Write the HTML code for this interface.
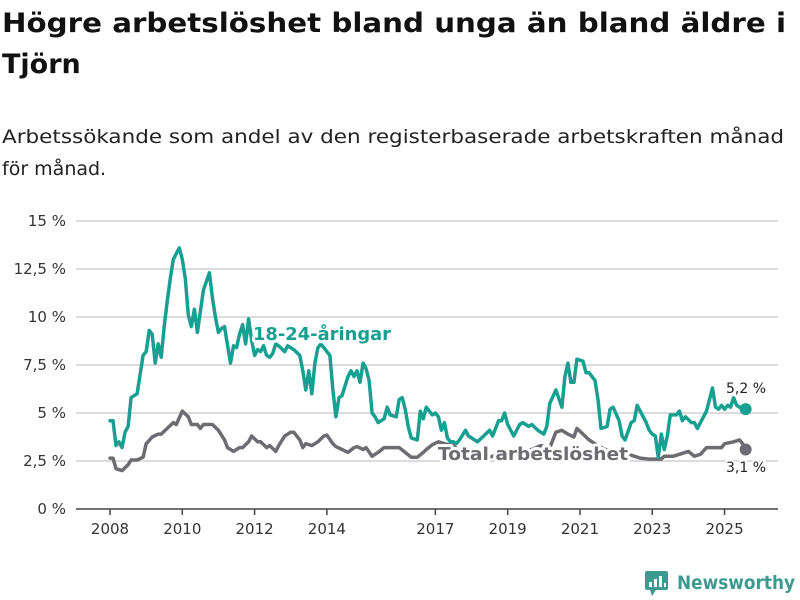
<!DOCTYPE html>
<html><head><meta charset="utf-8">
<style>
html,body{margin:0;padding:0;background:#fff;}
svg{display:block;}
text{font-family:"DejaVu Sans","Liberation Sans",sans-serif;}
</style></head>
<body>
<svg id="chart" width="800" height="600" viewBox="0 0 800 600">
  <text x="2" y="32" font-size="27" font-weight="bold" fill="#111" textLength="784" lengthAdjust="spacingAndGlyphs">Högre arbetslöshet bland unga än bland äldre i</text>
  <text x="2" y="73" font-size="27" font-weight="bold" fill="#111">Tjörn</text>
  <text x="2" y="143" font-size="19" fill="#222" textLength="782" lengthAdjust="spacingAndGlyphs">Arbetssökande som andel av den registerbaserade arbetskraften månad</text>
  <text x="2" y="175" font-size="19" fill="#222">för månad.</text>
  <g id="grid"></g>
  <g id="series"></g>
  <g id="labels"></g>
  <g>
    <rect x="645" y="571" width="23" height="19" rx="2" fill="#3d9a90"/>
    <polygon points="650,590 656,590 652,596" fill="#3d9a90"/>
    <rect x="649" y="582" width="3" height="5" fill="#fff"/>
    <rect x="654" y="579" width="3" height="8" fill="#fff"/>
    <rect x="659" y="576" width="3" height="11" fill="#fff"/>
    <rect x="664" y="583" width="2" height="4" fill="#fff"/>
    <text x="677" y="589" font-size="19" font-weight="bold" fill="#3d9a90" textLength="118" lengthAdjust="spacingAndGlyphs">Newsworthy</text>
  </g>
</svg>
<script>
const yTicks = [0, 2.5, 5, 7.5, 10, 12.5, 15];
const yTickLabels = ["0 %", "2,5 %", "5 %", "7,5 %", "10 %", "12,5 %", "15 %"];
const xTickYears = [2008, 2010, 2012, 2014, 2017, 2019, 2021, 2023, 2025];
const youthMonths = [0,1,2,3,4,5,6,7,8,9,10,11,12,13,14,15,16,17,18,19,20,21,23,24,25,26,27,28,29,30,31,33,34,35,36,37,38,40,41,42,43,44,45,46,47,48,49,50,51,52,53,54,55,56,58,59,61,63,64,65,66,67,68,69,70,71,73,74,75,76,77,79,80,81,82,83,84,85,86,87,88,89,91,92,93,95,96,97,98,99,100,102,103,104,105,107,108,109,110,111,112,113,114,115,116,118,119,121,122,124,126,127,129,130,131,132,134,136,137,139,140,142,144,145,146,148,150,151,152,153,154,155,157,158,159,161,162,163,165,166,167,169,170,171,173,174,175,176,178,179,180,181,182,183,184,185,186,188,189,190,191,193,194,195,197,198,200,201,202,203,204,205,206,207,208,210,211];
const youthValues = [4.6,4.6,3.3,3.5,3.2,4.0,4.3,5.8,5.9,6.0,7.0,8.0,8.2,9.3,9.1,7.6,8.6,7.9,9.5,10.8,12,13,13.6,13,12,10.1,9.5,10.4,9.2,10.3,11.4,12.3,11,10,9.2,9.4,9.5,7.6,8.5,8.4,9.1,9.6,8.6,9.9,8.8,8.0,8.3,8.2,8.5,8.0,7.9,8.1,8.6,8.5,8.2,8.5,8.3,8.0,7.2,6.2,7.2,6.0,7.6,8.4,8.6,8.4,8.0,6.2,4.8,5.8,5.9,6.9,7.2,6.9,7.2,6.6,7.6,7.3,6.7,5.0,4.8,4.5,4.7,5.3,4.9,4.8,5.7,5.8,5.2,4.3,3.7,3.6,5.1,4.7,5.3,4.9,5.0,4.8,4.1,4.5,3.7,3.5,3.5,3.4,3.6,4.1,3.8,3.6,3.5,3.8,4.1,3.8,4.6,4.6,5.0,4.4,3.8,4.4,4.5,4.3,4.4,4.1,3.9,4.3,5.5,6.2,5.3,6.9,7.6,6.6,6.6,7.8,7.7,7.1,7.1,6.7,5.7,4.2,4.3,5.2,5.3,4.6,3.8,3.6,4.5,4.6,5.4,5.1,4.5,4.1,3.9,3.8,2.7,3.9,3.1,3.8,4.9,4.9,5.1,4.6,4.8,4.5,4.5,4.2,4.8,5.1,6.3,5.3,5.2,5.4,5.2,5.4,5.3,5.8,5.4,5.2,5.2];
const totalMonths = [0,1,2,4,6,7,9,11,12,14,16,17,19,21,22,24,26,27,29,30,31,33,34,36,38,39,41,43,44,46,47,49,50,52,53,55,56,58,60,61,63,64,65,67,69,71,72,74,75,77,79,81,82,84,85,87,89,91,94,96,98,100,102,104,105,107,109,111,114,116,120,123,126,130,133,136,140,143,146,148,150,152,154,155,157,159,163,166,169,173,176,179,183,184,187,189,192,194,196,198,200,203,204,207,209,210,211];
const totalValues = [2.65,2.65,2.1,2.0,2.3,2.55,2.55,2.7,3.4,3.75,3.9,3.9,4.2,4.5,4.4,5.1,4.8,4.4,4.4,4.2,4.4,4.4,4.4,4.1,3.6,3.2,3.0,3.2,3.2,3.5,3.8,3.5,3.5,3.2,3.3,3.0,3.3,3.8,4.0,4.0,3.6,3.2,3.4,3.3,3.5,3.8,3.85,3.4,3.25,3.1,2.95,3.2,3.25,3.1,3.2,2.75,2.95,3.2,3.2,3.2,2.95,2.7,2.7,2.95,3.1,3.35,3.5,3.4,3.3,3.0,2.8,2.6,2.7,2.9,2.9,3.0,3.1,3.3,3.2,4.0,4.1,3.9,3.75,4.2,3.9,3.6,3.2,3.0,2.9,2.8,2.65,2.6,2.6,2.75,2.75,2.85,3.0,2.75,2.85,3.2,3.2,3.2,3.4,3.5,3.6,3.4,3.1];
const youthLast = "5,2 %";
const totalLast = "3,1 %";

const NS = "http://www.w3.org/2000/svg";
const x0 = 110, pxPerMonth = 3.0125;
const yBase = 509, pxPerUnit = 19.2;
function xScale(m){ return x0 + m * pxPerMonth; }
function yScale(v){ return yBase - v * pxPerUnit; }
function mk(tag, attrs, parent){ const e = document.createElementNS(NS, tag); for (const k in attrs) e.setAttribute(k, attrs[k]); parent.appendChild(e); return e; }

const grid = document.getElementById('grid');
yTicks.forEach((t, i) => {
  if (t > 0) {
    const l = mk('line', {x1:76, x2:778, y1:yScale(t), y2:yScale(t), stroke:'#dcdcdc', 'stroke-width':2}, grid);
    
    
  }
  const tx = mk('text', {x:66, y:yScale(t)+5, 'text-anchor':'end', 'font-size':15, fill:'#333'}, grid);
  tx.textContent = yTickLabels[i];
  
  
});
const axis = mk('line', {x1:76, x2:778, y1:yBase, y2:yBase, stroke:'#444', 'stroke-width':1.5}, grid);


xTickYears.forEach(yr => {
  const x = xScale((yr - 2008) * 12);
  const tk = mk('line', {x1:x, x2:x, y1:yBase, y2:yBase+6, stroke:'#444', 'stroke-width':1.5}, grid);
  
  
  const tx = mk('text', {x:x, y:534, 'text-anchor':'middle', 'font-size':15, fill:'#333'}, grid);
  tx.textContent = String(yr);
  
  
});

const series = document.getElementById('series');
function drawLine(months, values, color, name){
  const d = months.map((m, i) => (i ? 'L' : 'M') + xScale(m).toFixed(1) + ',' + yScale(values[i]).toFixed(1)).join(' ');
  const p = mk('path', {d:d, fill:'none', stroke:color, 'stroke-width':3.5, 'stroke-linejoin':'round', 'stroke-linecap':'round'}, series);
  
  
  const lm = months[months.length-1], lv = values[values.length-1];
  const c = mk('circle', {cx:xScale(lm), cy:yScale(lv), r:6, fill:color}, series);
  
  
}
drawLine(totalMonths, totalValues, '#6d6c72', 'total-line');
drawLine(youthMonths, youthValues, '#17a092', 'youth-line');

const labels = document.getElementById('labels');
const yl = mk('text', {x:253, y:340, 'font-size':18, 'font-weight':'bold', fill:'#17a092', stroke:'#fff', 'stroke-width':6, 'paint-order':'stroke', 'stroke-linejoin':'round', textLength:138, lengthAdjust:'spacingAndGlyphs'}, labels);
yl.textContent = '18-24-åringar';


const tl = mk('text', {x:438, y:460, 'font-size':18, 'font-weight':'bold', fill:'#6d6c72', stroke:'#fff', 'stroke-width':6, 'paint-order':'stroke', 'stroke-linejoin':'round', textLength:190, lengthAdjust:'spacingAndGlyphs'}, labels);
tl.textContent = 'Total arbetslöshet';


const yv = mk('text', {x:746, y:393, 'text-anchor':'middle', 'font-size':14, fill:'#222', stroke:'#fff', 'stroke-width':4, 'paint-order':'stroke'}, labels);
yv.textContent = youthLast;


const tv = mk('text', {x:746, y:472, 'text-anchor':'middle', 'font-size':14, fill:'#222', stroke:'#fff', 'stroke-width':4, 'paint-order':'stroke'}, labels);
tv.textContent = totalLast;


</script>
</body></html>
